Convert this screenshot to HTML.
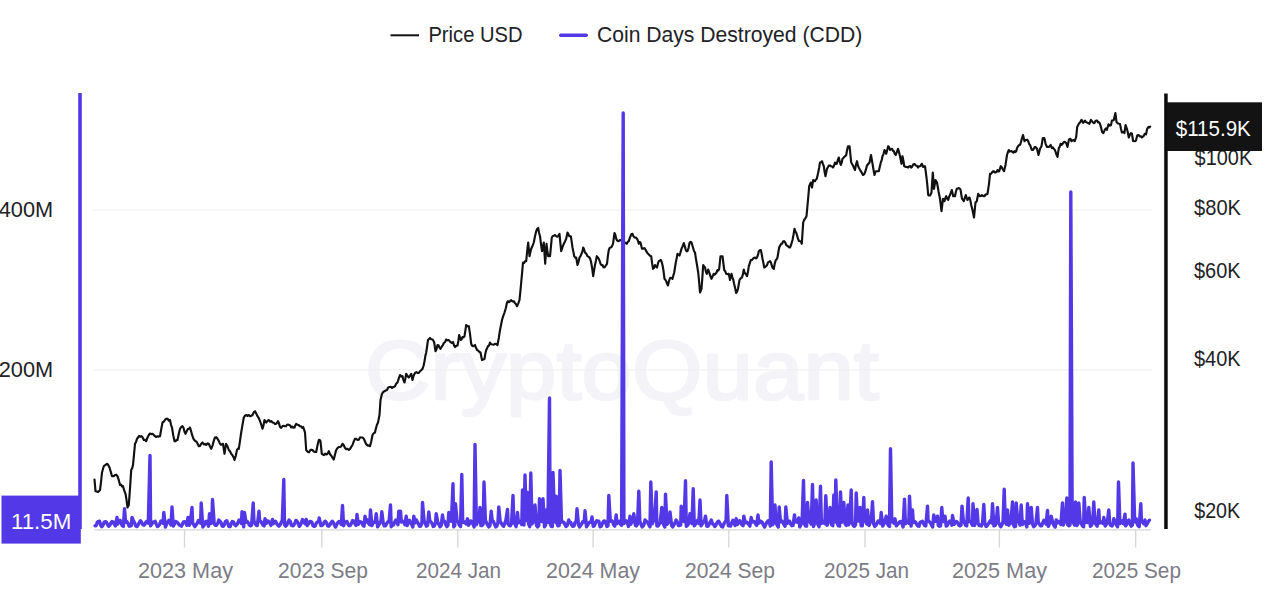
<!DOCTYPE html>
<html><head><meta charset="utf-8"><title>Chart</title>
<style>html,body{margin:0;padding:0;background:#fff;overflow:hidden}svg{display:block}</style>
</head><body>
<svg width="1280" height="602" viewBox="0 0 1280 602" font-family="Liberation Sans, sans-serif">
<rect width="1280" height="602" fill="#ffffff"/>
<text x="365" y="398.5" font-size="83" fill="#f3f3f8" stroke="#f3f3f8" stroke-width="2.4" stroke-linejoin="round" textLength="514" lengthAdjust="spacingAndGlyphs">CryptoQuant</text>
<line x1="92" y1="210" x2="1152" y2="210" stroke="#f1f1f1" stroke-width="1.2"/>
<line x1="94" y1="369.8" x2="1152" y2="369.8" stroke="#f1f1f1" stroke-width="1.2"/>
<line x1="94.5" y1="529.9" x2="1151" y2="529.9" stroke="#d6d6d8" stroke-width="1.4"/>
<line x1="184.5" y1="530" x2="184.5" y2="547.5" stroke="#d6d6d8" stroke-width="1.3"/>
<line x1="321.8" y1="530" x2="321.8" y2="547.5" stroke="#d6d6d8" stroke-width="1.3"/>
<line x1="457.8" y1="530" x2="457.8" y2="547.5" stroke="#d6d6d8" stroke-width="1.3"/>
<line x1="593.1" y1="530" x2="593.1" y2="547.5" stroke="#d6d6d8" stroke-width="1.3"/>
<line x1="728.8" y1="530" x2="728.8" y2="547.5" stroke="#d6d6d8" stroke-width="1.3"/>
<line x1="865" y1="530" x2="865" y2="547.5" stroke="#d6d6d8" stroke-width="1.3"/>
<line x1="999.4" y1="530" x2="999.4" y2="547.5" stroke="#d6d6d8" stroke-width="1.3"/>
<line x1="1135.7" y1="530" x2="1135.7" y2="547.5" stroke="#d6d6d8" stroke-width="1.3"/>
<text x="137.99" y="578.0" font-size="22.2" fill="#7c7c86" textLength="95.01" lengthAdjust="spacingAndGlyphs">2023 May</text>
<text x="278.00" y="578.0" font-size="22.2" fill="#7c7c86" textLength="90.00" lengthAdjust="spacingAndGlyphs">2023 Sep</text>
<text x="416.00" y="578.0" font-size="22.2" fill="#7c7c86" textLength="85.00" lengthAdjust="spacingAndGlyphs">2024 Jan</text>
<text x="546.01" y="578.0" font-size="22.2" fill="#7c7c86" textLength="93.99" lengthAdjust="spacingAndGlyphs">2024 May</text>
<text x="684.99" y="578.0" font-size="22.2" fill="#7c7c86" textLength="90.03" lengthAdjust="spacingAndGlyphs">2024 Sep</text>
<text x="824.00" y="578.0" font-size="22.2" fill="#7c7c86" textLength="85.00" lengthAdjust="spacingAndGlyphs">2025 Jan</text>
<text x="952.01" y="578.0" font-size="22.2" fill="#7c7c86" textLength="94.99" lengthAdjust="spacingAndGlyphs">2025 May</text>
<text x="1092.01" y="578.0" font-size="22.2" fill="#7c7c86" textLength="88.99" lengthAdjust="spacingAndGlyphs">2025 Sep</text>
<line x1="390.5" y1="35.3" x2="419" y2="35.3" stroke="#111" stroke-width="2"/>
<text x="428.40" y="42.3" font-size="22.2" fill="#222226" textLength="94.20" lengthAdjust="spacingAndGlyphs">Price USD</text>
<line x1="560.7" y1="35.3" x2="586.3" y2="35.3" stroke="#5238e6" stroke-width="3.4" stroke-linecap="round"/>
<text x="597.00" y="42.3" font-size="22.2" fill="#222226" textLength="265.20" lengthAdjust="spacingAndGlyphs">Coin Days Destroyed (CDD)</text>
<text x="-1.30" y="216.9" font-size="22.2" fill="#222226" textLength="54.50" lengthAdjust="spacingAndGlyphs">400M</text>
<text x="-1.30" y="376.9" font-size="22.2" fill="#222226" textLength="54.50" lengthAdjust="spacingAndGlyphs">200M</text>
<rect x="78.2" y="93" width="3.6" height="436" fill="#5238e6"/>
<rect x="1.5" y="495.6" width="79.3" height="48" fill="#5238e6"/>
<text x="10.95" y="529.0" font-size="22.2" fill="#ffffff" textLength="60.30" lengthAdjust="spacingAndGlyphs">11.5M</text>
<text x="1194.61" y="165.4" font-size="22.2" fill="#222226" textLength="57.58" lengthAdjust="spacingAndGlyphs">$100K</text>
<text x="1194.00" y="215.0" font-size="22.2" fill="#222226" textLength="47.00" lengthAdjust="spacingAndGlyphs">$80K</text>
<text x="1194.00" y="278.3" font-size="22.2" fill="#222226" textLength="46.60" lengthAdjust="spacingAndGlyphs">$60K</text>
<text x="1194.00" y="365.8" font-size="22.2" fill="#222226" textLength="46.60" lengthAdjust="spacingAndGlyphs">$40K</text>
<text x="1194.18" y="518.1" font-size="22.2" fill="#222226" textLength="46.02" lengthAdjust="spacingAndGlyphs">$20K</text>
<rect x="1164.2" y="93.5" width="3.5" height="435.5" fill="#0c0c0c"/>
<rect x="1167" y="102.3" width="95" height="48.7" fill="#131313"/>
<text x="1175.79" y="135.6" font-size="22.2" fill="#ffffff" textLength="74.99" lengthAdjust="spacingAndGlyphs">$115.9K</text>
<path d="M94.5,479.5 L95.5,491.2 L96.8,491.5 L98.0,492.0 L99.0,491.1 L100.0,490.0 L101.0,482.2 L102.0,472.5 L102.9,469.3 L103.8,466.2 L104.8,465.4 L105.9,464.8 L107.0,463.8 L108.2,464.9 L109.5,467.5 L110.8,471.9 L112.0,476.2 L113.0,476.1 L114.0,476.1 L115.0,475.0 L116.2,474.7 L117.5,476.2 L118.8,480.2 L120.0,485.0 L121.0,484.5 L122.0,486.5 L123.0,486.2 L124.2,490.4 L125.5,493.8 L126.5,499.6 L127.5,507.5 L128.8,505.0 L130.0,488.6 L131.2,470.0 L132.1,468.5 L133.0,465.0 L134.0,454.7 L135.0,443.8 L136.0,441.9 L137.0,438.8 L138.0,437.5 L139.1,436.0 L140.2,436.7 L141.2,436.2 L142.5,437.2 L143.8,440.0 L145.0,439.9 L146.2,441.2 L147.5,437.6 L148.8,435.0 L150.0,433.5 L151.2,434.1 L152.5,433.8 L153.8,434.9 L155.0,436.2 L156.2,437.0 L157.5,436.3 L158.8,436.6 L160.0,436.2 L161.2,429.4 L162.5,422.5 L163.8,421.6 L165.0,419.9 L166.2,418.8 L167.5,418.7 L168.8,420.7 L170.0,420.0 L171.0,424.8 L172.0,427.5 L173.2,435.1 L174.5,441.2 L175.5,441.3 L176.5,440.0 L177.5,440.0 L178.8,433.8 L180.0,428.8 L181.2,427.0 L182.5,426.2 L183.5,427.8 L184.5,431.8 L185.5,433.8 L186.8,431.0 L188.0,428.8 L189.0,428.9 L190.0,427.5 L191.2,431.6 L192.5,436.2 L193.5,438.9 L194.5,440.3 L195.5,441.2 L196.6,441.8 L197.7,443.9 L198.8,446.2 L200.0,445.9 L201.2,443.7 L202.5,442.5 L203.8,444.4 L205.0,443.9 L206.2,445.0 L207.5,443.4 L208.8,443.8 L210.0,446.5 L211.2,448.8 L212.5,445.6 L213.8,440.7 L215.0,437.5 L216.2,437.2 L217.5,438.8 L218.8,440.9 L220.0,443.8 L221.0,444.8 L222.0,444.3 L223.0,443.8 L224.5,453.8 L226.0,443.8 L227.4,446.0 L228.8,450.0 L230.0,451.3 L231.2,453.8 L232.3,455.0 L233.4,456.9 L234.5,460.0 L235.8,455.7 L237.0,450.0 L237.9,448.7 L238.8,448.8 L240.0,440.8 L241.2,432.5 L242.5,424.9 L243.8,417.5 L245.0,415.6 L246.2,415.0 L247.5,415.9 L248.8,415.0 L250.0,416.2 L251.2,415.9 L252.5,415.0 L253.8,412.3 L255.0,411.2 L256.2,413.6 L257.5,416.2 L258.8,418.1 L260.0,421.2 L261.2,424.5 L262.5,428.8 L263.5,425.4 L264.5,420.0 L265.4,421.9 L266.2,422.5 L267.5,420.8 L268.8,420.0 L270.0,421.7 L271.2,421.0 L272.5,422.5 L273.8,422.7 L275.0,424.1 L276.2,423.8 L277.1,422.8 L278.0,421.2 L279.0,423.2 L280.0,427.0 L281.2,427.9 L282.5,426.0 L283.8,425.9 L285.0,426.2 L286.0,426.3 L287.0,424.7 L288.0,424.5 L289.1,425.1 L290.2,425.6 L291.2,427.5 L292.3,426.6 L293.4,427.7 L294.5,427.5 L295.4,425.1 L296.2,423.8 L297.5,424.8 L298.8,425.1 L300.0,426.2 L301.1,426.4 L302.2,427.8 L303.2,427.0 L304.1,429.7 L305.0,432.5 L306.2,450.0 L307.1,451.2 L308.0,452.0 L309.1,452.3 L310.2,450.3 L311.4,449.7 L312.5,450.0 L313.8,451.6 L315.0,452.0 L316.2,452.0 L317.5,445.4 L318.8,440.0 L319.6,439.9 L320.5,441.2 L321.8,453.8 L322.9,454.5 L324.0,455.1 L325.1,453.6 L326.2,454.5 L327.5,453.9 L328.8,451.2 L330.0,454.2 L331.2,455.5 L332.5,457.7 L333.8,459.5 L335.0,454.6 L336.2,450.0 L337.5,448.1 L338.8,447.0 L340.0,447.0 L341.2,446.4 L342.5,443.8 L343.8,445.3 L345.0,448.0 L346.2,449.1 L347.5,448.8 L348.8,450.0 L350.0,449.0 L351.2,446.9 L352.5,445.0 L353.8,441.4 L355.0,438.8 L356.2,438.7 L357.5,440.0 L358.8,439.7 L360.0,437.4 L361.2,437.5 L362.5,437.5 L363.8,438.8 L364.8,441.0 L365.9,443.7 L367.0,445.0 L368.0,445.7 L369.0,445.3 L370.0,446.2 L371.2,441.5 L372.5,435.0 L373.8,433.1 L375.0,432.5 L375.5,430.0 L376.8,425.2 L378.0,422.5 L379.5,415.0 L380.5,400.0 L382.0,393.8 L383.2,392.0 L384.5,391.2 L385.8,390.5 L387.0,390.0 L388.2,387.5 L389.5,387.0 L390.8,386.8 L392.0,388.0 L393.0,387.1 L394.0,387.0 L395.0,386.2 L396.2,383.6 L397.5,382.5 L398.8,378.4 L400.0,375.0 L401.2,376.5 L402.5,376.2 L403.5,380.4 L404.5,382.5 L405.4,378.5 L406.2,373.8 L407.5,376.0 L408.8,377.5 L410.0,375.8 L411.2,373.8 L412.5,380.0 L413.5,376.1 L414.5,373.8 L415.5,372.5 L416.5,372.2 L417.5,373.0 L418.8,373.0 L420.0,371.2 L421.2,370.4 L422.5,368.8 L423.5,366.0 L424.5,361.2 L425.4,355.8 L426.2,352.5 L427.1,346.5 L428.0,340.0 L429.0,339.0 L430.0,338.0 L431.2,339.3 L432.5,339.5 L433.4,340.6 L434.2,342.5 L435.5,351.2 L436.5,349.2 L437.5,345.0 L438.5,345.3 L439.5,347.6 L440.5,348.8 L442.0,346.2 L442.9,345.1 L443.8,343.0 L445.0,342.1 L446.2,339.5 L447.5,340.3 L448.8,340.0 L450.0,341.7 L451.2,342.5 L452.1,342.9 L453.0,342.0 L454.0,345.4 L455.0,347.0 L456.2,345.9 L457.5,345.5 L458.4,340.7 L459.2,335.0 L460.8,340.0 L461.6,339.4 L462.5,337.0 L463.5,337.4 L464.5,336.2 L465.4,330.4 L466.2,325.0 L467.5,326.3 L468.8,326.2 L470.0,333.8 L471.2,343.8 L472.1,345.8 L473.0,346.2 L474.0,345.8 L475.0,345.0 L476.0,347.8 L477.0,350.0 L477.9,350.4 L478.8,351.2 L479.6,352.1 L480.5,352.5 L482.0,360.0 L483.2,359.6 L484.5,358.8 L485.4,353.5 L486.2,350.0 L487.1,348.4 L488.0,346.2 L489.0,345.5 L490.0,342.5 L491.2,344.3 L492.5,344.5 L493.8,344.6 L495.0,343.8 L496.2,344.1 L497.5,345.0 L498.8,338.0 L500.0,330.0 L501.0,325.2 L502.0,320.0 L503.2,316.1 L504.5,312.5 L505.8,308.2 L507.0,302.5 L508.0,301.2 L509.0,302.2 L510.0,301.2 L511.2,300.2 L512.5,301.5 L513.8,301.2 L514.8,302.9 L515.9,304.0 L517.0,306.2 L518.2,303.6 L519.5,300.0 L520.4,291.2 L521.2,282.5 L522.1,272.8 L523.0,262.5 L524.1,263.0 L525.2,261.1 L526.2,261.2 L527.2,250.8 L528.2,242.5 L529.5,256.2 L530.4,252.1 L531.2,248.8 L532.5,246.0 L533.8,242.5 L535.0,236.2 L536.2,231.2 L537.2,228.9 L538.2,228.0 L539.1,233.0 L540.0,236.2 L541.0,244.1 L542.0,251.2 L542.9,246.7 L543.8,242.5 L545.2,263.8 L546.5,243.8 L547.4,250.9 L548.2,256.2 L549.1,255.9 L550.0,256.2 L550.9,247.2 L551.8,237.5 L552.8,236.0 L553.9,235.7 L555.0,235.0 L556.0,236.1 L557.0,236.7 L558.0,236.2 L559.5,233.8 L560.4,243.3 L561.2,251.2 L562.5,247.2 L563.8,243.8 L565.0,241.4 L566.2,238.8 L567.5,232.5 L568.4,234.0 L569.2,236.2 L570.8,236.2 L571.6,241.1 L572.5,247.5 L573.4,251.9 L574.2,256.2 L575.2,257.6 L576.2,257.5 L577.5,265.0 L578.5,262.0 L579.5,257.5 L580.5,256.1 L581.5,253.8 L582.4,251.6 L583.2,247.5 L584.1,249.5 L585.0,252.5 L586.2,253.6 L587.5,256.2 L588.5,256.8 L589.5,257.5 L590.4,259.5 L591.2,262.5 L592.2,268.7 L593.2,276.2 L594.1,270.4 L595.0,265.0 L595.9,260.9 L596.8,256.2 L597.8,257.5 L598.8,258.8 L599.6,260.8 L600.5,263.8 L601.5,265.1 L602.5,265.0 L603.5,267.3 L604.5,267.5 L605.8,265.5 L607.0,263.8 L607.9,255.9 L608.8,250.0 L609.8,247.7 L610.8,247.5 L611.9,246.4 L613.0,243.8 L614.5,233.0 L615.4,234.9 L616.2,238.8 L617.1,240.5 L618.0,241.2 L619.0,240.8 L620.0,240.0 L621.0,240.2 L622.0,241.2 L623.1,243.1 L624.2,243.8 L625.5,242.7 L626.8,243.8 L627.8,241.7 L628.8,241.2 L629.6,238.7 L630.5,236.2 L631.5,234.0 L632.5,233.8 L633.5,236.4 L634.5,237.5 L635.8,237.5 L637.0,238.8 L637.9,240.5 L638.8,243.8 L639.6,242.1 L640.5,242.5 L642.0,248.8 L643.2,248.7 L644.5,248.0 L645.4,249.5 L646.2,251.2 L647.5,253.2 L648.8,254.5 L650.0,255.7 L651.2,256.2 L652.1,263.2 L653.0,268.8 L654.0,267.9 L655.0,265.0 L656.0,266.7 L657.0,267.5 L657.9,263.7 L658.8,261.2 L659.8,260.6 L660.8,260.0 L661.6,261.8 L662.5,265.0 L663.5,270.8 L664.5,278.8 L665.4,279.9 L666.2,281.2 L667.1,283.8 L668.0,285.5 L669.0,281.0 L670.0,278.0 L671.2,277.9 L672.5,278.8 L673.4,275.3 L674.2,272.5 L675.8,262.5 L676.6,258.6 L677.5,253.8 L678.5,254.7 L679.5,255.5 L680.5,252.4 L681.5,248.8 L682.6,246.4 L683.8,243.0 L684.8,246.3 L685.8,250.0 L686.6,251.3 L687.5,251.2 L688.5,248.0 L689.5,243.0 L690.5,241.8 L691.5,242.5 L693.0,247.5 L694.0,251.0 L695.0,252.5 L695.9,258.6 L696.8,263.8 L698.2,272.5 L699.1,281.7 L700.0,292.5 L701.5,288.8 L702.4,276.8 L703.2,265.0 L704.1,266.5 L705.0,267.5 L705.9,271.5 L706.8,273.8 L708.2,269.5 L709.1,272.0 L710.0,275.0 L711.5,278.8 L712.6,276.4 L713.8,273.8 L714.6,274.6 L715.5,273.8 L716.5,272.5 L717.5,270.0 L718.4,270.4 L719.2,268.8 L720.5,256.2 L721.5,256.2 L722.5,256.2 L723.4,263.5 L724.2,270.0 L725.2,271.2 L726.2,273.8 L727.5,274.2 L728.8,273.8 L730.0,280.0 L731.5,273.8 L732.4,277.3 L733.2,279.5 L734.1,283.8 L735.0,287.5 L736.2,293.0 L737.1,291.4 L738.0,288.8 L739.5,280.0 L740.8,278.1 L742.0,277.5 L742.9,274.4 L743.8,269.5 L744.6,272.7 L745.5,273.8 L747.0,276.2 L747.9,272.3 L748.8,266.2 L749.8,263.2 L750.8,260.0 L751.9,260.0 L753.0,258.8 L754.0,257.7 L755.0,257.5 L756.0,258.4 L757.0,257.5 L757.9,255.2 L758.8,251.2 L759.8,250.3 L760.8,250.0 L761.6,253.5 L762.5,258.8 L763.4,263.0 L764.2,267.5 L765.2,267.0 L766.2,266.2 L767.1,265.0 L768.0,262.5 L769.0,261.8 L770.0,261.2 L771.0,262.7 L772.0,266.2 L772.9,268.2 L773.8,268.8 L774.8,263.4 L775.8,260.0 L776.6,259.4 L777.5,257.5 L778.4,251.8 L779.2,247.5 L780.2,245.3 L781.2,243.8 L782.2,243.6 L783.2,241.3 L784.2,241.2 L785.2,242.4 L786.2,245.0 L787.1,245.7 L788.0,246.2 L789.0,247.4 L790.0,247.5 L791.2,244.5 L792.5,240.0 L793.5,234.8 L794.5,228.8 L795.4,231.6 L796.2,232.5 L797.1,235.6 L798.0,238.8 L799.0,241.0 L800.0,241.2 L800.9,241.6 L801.8,243.8 L803.2,222.5 L804.1,220.0 L805.0,218.8 L806.5,216.2 L808.0,200.0 L809.2,186.2 L810.8,182.5 L812.0,187.5 L813.2,180.0 L814.1,180.7 L815.0,181.2 L815.9,179.5 L816.8,178.8 L818.2,172.5 L819.1,168.0 L820.0,162.5 L821.0,162.2 L822.0,161.2 L822.9,163.8 L823.8,166.2 L824.6,172.0 L825.5,176.2 L827.0,168.8 L827.9,167.3 L828.8,165.5 L830.0,165.5 L831.2,166.2 L832.1,166.6 L833.0,167.5 L834.0,165.8 L835.0,162.5 L835.9,164.0 L836.8,163.8 L837.8,160.0 L838.8,157.5 L839.8,162.0 L840.8,165.0 L841.6,162.9 L842.5,158.8 L843.4,157.9 L844.2,157.0 L845.2,156.2 L846.2,155.0 L847.1,150.0 L848.0,146.2 L849.5,146.2 L850.4,154.5 L851.2,162.5 L852.1,164.0 L853.0,165.5 L854.0,168.0 L855.0,170.0 L856.0,164.6 L857.0,161.2 L857.9,165.4 L858.8,167.5 L859.8,169.4 L860.8,171.2 L861.9,172.9 L863.0,175.0 L864.0,174.4 L865.0,172.5 L866.0,169.1 L867.0,165.5 L868.2,164.0 L869.5,162.5 L871.0,155.0 L872.5,163.8 L873.5,169.8 L874.5,175.0 L875.4,172.2 L876.2,171.2 L877.5,171.3 L878.8,171.2 L879.8,166.7 L880.8,162.5 L881.6,160.4 L882.5,156.2 L883.5,154.1 L884.5,150.0 L885.4,151.4 L886.2,153.8 L887.2,149.9 L888.2,146.2 L889.1,147.3 L890.0,150.0 L891.0,149.2 L892.0,148.8 L892.9,150.7 L893.8,151.2 L894.8,154.0 L895.8,155.0 L896.9,151.8 L898.0,148.8 L899.0,152.1 L900.0,156.2 L901.5,163.8 L902.5,156.2 L903.4,160.6 L904.2,166.2 L905.6,166.9 L907.0,167.0 L908.2,167.6 L909.5,166.2 L910.4,166.1 L911.2,167.5 L912.2,166.6 L913.2,164.5 L914.5,164.0 L915.8,165.5 L916.9,165.8 L918.0,167.5 L919.0,166.3 L920.0,166.2 L920.9,165.4 L921.8,163.8 L923.2,167.0 L924.1,166.2 L925.0,166.2 L926.5,177.5 L927.4,185.9 L928.2,195.0 L929.1,195.5 L930.0,195.5 L931.5,192.5 L932.8,172.5 L934.0,188.8 L935.5,180.0 L937.0,182.5 L938.5,191.2 L940.0,198.8 L941.5,211.2 L943.0,198.8 L944.5,201.2 L945.4,197.9 L946.2,196.2 L947.2,198.6 L948.2,200.0 L949.1,196.7 L950.0,195.0 L950.9,192.5 L951.8,190.0 L953.2,196.2 L954.1,195.7 L955.0,196.2 L955.9,191.8 L956.8,188.8 L957.8,188.4 L958.8,188.0 L959.6,188.6 L960.5,189.5 L962.0,198.8 L962.9,199.7 L963.8,201.2 L964.8,197.9 L965.8,195.0 L966.6,197.6 L967.5,200.0 L968.5,198.0 L969.5,197.5 L970.4,200.6 L971.2,205.0 L972.5,210.0 L974.0,217.5 L975.5,202.5 L976.8,201.2 L978.2,193.8 L979.1,195.3 L980.0,196.2 L981.0,195.9 L982.0,195.0 L982.9,195.7 L983.8,196.2 L984.6,196.1 L985.5,194.5 L986.5,194.4 L987.5,193.8 L989.0,183.8 L990.0,173.8 L991.0,173.9 L992.0,172.5 L992.9,171.3 L993.8,171.2 L994.6,172.4 L995.5,172.5 L996.5,171.9 L997.5,170.0 L998.4,171.5 L999.2,171.2 L1000.8,166.2 L1001.6,167.1 L1002.5,168.8 L1004.0,171.2 L1005.5,165.0 L1007.0,155.0 L1007.9,152.1 L1008.8,150.0 L1009.6,151.6 L1010.5,151.2 L1011.5,151.0 L1012.5,152.0 L1013.5,152.7 L1014.5,151.2 L1015.4,152.1 L1016.2,151.2 L1017.1,147.9 L1018.0,146.2 L1019.0,145.1 L1020.0,145.0 L1020.9,142.4 L1021.8,138.8 L1023.0,135.0 L1024.5,141.2 L1025.4,140.1 L1026.2,140.0 L1027.2,139.7 L1028.2,141.2 L1029.1,143.9 L1030.0,145.0 L1030.9,147.3 L1031.8,150.0 L1032.8,150.0 L1033.8,148.8 L1034.6,147.1 L1035.5,147.0 L1037.0,148.8 L1038.5,155.0 L1040.0,148.8 L1041.5,146.2 L1042.8,138.1 L1044.4,138.1 L1045.6,143.8 L1046.9,146.9 L1047.8,146.7 L1048.8,146.9 L1049.7,146.3 L1050.6,145.0 L1051.9,148.1 L1052.8,147.4 L1053.8,148.8 L1054.7,149.7 L1055.6,151.9 L1056.6,154.8 L1057.5,156.9 L1058.8,148.1 L1059.7,146.8 L1060.6,143.8 L1061.6,144.9 L1062.5,144.0 L1063.8,142.1 L1065.0,141.9 L1066.2,143.1 L1067.5,146.9 L1069.0,139.4 L1070.4,138.8 L1071.5,141.2 L1073.1,140.0 L1074.8,141.0 L1076.2,136.9 L1077.2,126.9 L1078.8,123.8 L1080.0,122.5 L1081.5,119.8 L1083.1,122.8 L1084.1,121.7 L1085.0,120.6 L1085.9,122.1 L1086.9,122.5 L1088.1,123.1 L1089.4,123.8 L1090.9,119.8 L1092.5,121.9 L1093.4,122.9 L1094.4,123.1 L1095.3,121.2 L1096.2,120.6 L1097.2,120.6 L1098.1,122.5 L1099.1,122.3 L1100.0,123.8 L1101.2,128.1 L1102.1,131.9 L1103.4,133.1 L1105.0,129.4 L1105.9,128.5 L1106.9,129.8 L1108.5,124.4 L1110.0,125.6 L1111.0,125.0 L1111.9,120.6 L1112.8,120.4 L1113.8,120.0 L1115.4,113.1 L1116.5,121.9 L1118.1,123.5 L1119.1,123.8 L1120.0,124.0 L1120.9,128.4 L1121.9,132.5 L1123.5,131.9 L1124.4,133.1 L1125.6,125.0 L1126.9,128.8 L1127.8,132.3 L1128.8,137.5 L1130.0,134.4 L1130.9,133.2 L1131.9,133.5 L1133.1,141.0 L1134.8,141.2 L1136.0,140.6 L1137.2,135.6 L1138.5,135.0 L1140.0,136.5 L1140.9,136.3 L1141.9,137.5 L1143.5,136.2 L1144.8,133.8 L1146.0,134.4 L1147.2,128.8 L1148.5,126.9 L1149.4,127.5 L1150.2,126.6" fill="none" stroke="#111111" stroke-width="2.15" stroke-linejoin="round" stroke-linecap="round"/>
<path d="M95.0,525.7 L96.1,525.7 L97.3,522.3 L98.4,521.4 L99.5,521.2 L100.7,525.2 L101.8,526.6 L102.9,525.3 L104.1,522.3 L105.2,521.6 L106.3,522.1 L107.5,524.5 L108.6,526.2 L109.8,525.3 L110.9,523.0 L112.0,521.5 L113.2,522.0 L114.3,524.1 L115.4,525.9 L117.0,517.5 L117.7,524.1 L118.8,521.5 L120.0,520.2 L121.1,523.0 L122.2,525.6 L123.4,526.4 L124.5,508.8 L125.6,522.4 L126.8,521.5 L127.9,523.2 L129.1,526.2 L130.2,526.0 L131.3,525.7 L132.0,517.5 L133.6,521.1 L134.7,523.2 L135.9,526.2 L137.0,526.5 L138.1,524.9 L139.3,522.5 L140.4,520.8 L141.5,522.0 L142.7,524.4 L143.8,525.3 L144.9,524.1 L146.1,521.9 L147.2,521.1 L148.3,523.1 L150.0,455.5 L150.6,525.9 L151.8,524.1 L152.9,522.1 L154.0,521.8 L155.2,521.3 L156.3,524.1 L157.4,526.5 L158.6,525.8 L159.7,524.2 L160.8,521.2 L162.0,520.9 L163.1,523.2 L163.8,512.5 L165.4,527.0 L166.5,524.4 L167.6,522.3 L168.8,520.4 L169.9,521.4 L171.0,524.9 L172.0,507.0 L173.3,526.1 L174.4,524.2 L175.6,521.6 L176.7,521.9 L177.9,523.0 L179.0,524.7 L180.1,525.4 L181.3,526.2 L182.4,524.3 L183.5,521.9 L184.7,521.6 L185.8,523.0 L186.9,525.2 L188.0,517.5 L189.2,525.4 L190.3,523.0 L192.0,507.5 L192.6,522.6 L193.7,524.8 L194.9,526.6 L196.0,525.0 L197.2,523.2 L198.3,520.6 L199.4,521.2 L200.6,523.2 L201.2,503.0 L202.8,527.0 L204.0,525.6 L205.1,522.3 L206.2,521.2 L207.4,523.0 L208.5,526.2 L209.5,513.8 L210.8,523.6 L211.9,520.9 L212.5,499.5 L214.2,523.8 L215.3,525.4 L216.4,525.3 L217.6,523.8 L218.8,520.0 L219.8,521.1 L221.0,522.5 L222.1,526.0 L223.3,526.2 L224.4,524.6 L225.5,521.4 L226.7,520.7 L227.8,523.5 L228.9,526.5 L230.1,526.6 L231.2,523.7 L232.3,521.5 L233.5,522.0 L234.6,524.5 L235.7,525.7 L236.9,524.6 L238.0,522.6 L239.1,520.0 L240.3,521.6 L241.4,523.5 L242.0,511.8 L243.7,526.9 L244.5,512.5 L246.0,522.4 L247.1,521.3 L248.2,522.7 L249.4,525.1 L250.5,525.8 L251.6,525.1 L253.2,503.0 L253.9,520.8 L255.0,522.9 L256.2,525.3 L257.3,525.5 L259.0,511.2 L259.6,521.1 L260.7,521.2 L261.8,523.0 L263.0,525.1 L264.1,525.9 L265.0,518.8 L266.4,523.4 L267.5,520.9 L268.7,521.4 L269.8,522.9 L270.9,525.4 L272.5,519.5 L273.2,523.8 L274.3,522.3 L275.5,521.2 L276.6,523.4 L277.7,525.0 L278.9,526.1 L280.0,525.0 L281.1,522.6 L282.3,520.4 L283.8,479.5 L284.5,524.7 L285.7,526.2 L286.8,525.0 L287.9,522.4 L289.1,520.1 L290.2,521.3 L291.4,525.3 L292.5,525.8 L293.6,525.5 L294.8,523.3 L295.9,520.4 L297.0,521.2 L298.2,523.4 L299.3,526.3 L300.4,525.1 L301.6,522.3 L302.5,519.5 L303.8,521.3 L305.0,523.7 L306.2,519.5 L307.2,525.6 L308.4,523.8 L309.5,521.9 L310.6,521.4 L311.8,522.2 L312.9,525.4 L314.1,526.4 L315.2,525.9 L316.3,523.1 L317.5,522.0 L318.6,521.7 L319.2,518.0 L320.9,525.6 L322.0,525.5 L323.1,524.4 L324.3,521.9 L325.4,521.2 L326.5,522.7 L327.7,525.9 L328.8,526.2 L329.9,524.9 L331.1,522.6 L332.2,521.2 L333.4,522.6 L334.5,525.3 L335.6,527.0 L336.8,524.6 L337.9,522.5 L339.0,521.5 L340.2,522.4 L341.3,524.6 L342.5,505.5 L343.6,525.7 L344.7,522.3 L345.8,521.8 L347.0,521.5 L348.1,524.4 L349.2,525.7 L350.4,525.3 L351.5,523.3 L352.6,520.6 L353.8,521.1 L354.9,523.8 L356.1,525.4 L357.0,514.5 L358.3,524.2 L359.5,521.5 L360.6,521.9 L361.7,522.7 L362.9,525.3 L364.0,526.2 L365.0,516.2 L366.3,522.0 L367.4,519.9 L368.5,523.2 L369.7,524.8 L370.5,510.0 L371.9,525.5 L373.1,522.7 L374.2,521.9 L375.3,522.3 L376.2,513.8 L377.6,526.9 L378.8,524.9 L379.9,522.7 L381.0,520.9 L381.8,511.8 L383.3,523.8 L384.4,525.9 L385.6,525.7 L386.7,523.5 L387.8,521.8 L389.0,521.9 L390.5,505.0 L391.2,526.7 L392.4,525.4 L393.5,525.0 L394.6,522.0 L395.8,520.0 L396.9,522.5 L398.0,524.7 L398.8,511.2 L400.5,511.2 L401.4,522.1 L402.6,521.6 L403.7,521.4 L404.9,524.8 L406.2,516.2 L407.1,525.6 L408.3,522.9 L409.4,520.2 L410.5,522.2 L411.7,524.5 L412.8,527.0 L413.8,516.2 L415.1,522.8 L416.2,519.8 L417.3,521.9 L418.5,523.9 L419.6,526.3 L420.7,526.1 L421.9,523.4 L422.5,502.5 L424.1,520.7 L425.3,523.1 L426.4,526.2 L427.6,525.3 L428.8,512.0 L429.8,521.0 L431.0,521.9 L432.1,523.5 L433.2,526.5 L434.4,525.9 L435.5,522.9 L436.2,513.8 L437.8,522.2 L438.9,524.6 L440.0,526.8 L441.2,525.6 L442.5,515.0 L443.4,521.9 L444.6,521.2 L445.7,524.5 L446.9,526.6 L448.0,525.2 L448.8,512.5 L450.3,520.5 L451.4,521.2 L453.0,483.8 L453.7,526.8 L454.8,525.5 L455.5,503.8 L457.1,521.2 L458.2,521.9 L459.3,524.9 L460.5,526.6 L461.8,474.5 L462.7,522.5 L463.9,521.9 L465.0,522.4 L466.1,523.9 L467.5,518.8 L468.4,525.3 L469.6,523.7 L470.7,520.9 L471.8,522.2 L473.0,524.0 L474.1,527.0 L475.0,444.5 L476.4,524.8 L477.5,521.4 L478.6,521.8 L480.0,507.5 L480.9,525.6 L482.0,525.6 L483.2,523.9 L484.0,482.0 L485.4,520.1 L486.6,522.9 L487.7,525.2 L488.8,526.9 L490.0,525.4 L491.2,511.2 L492.2,520.7 L493.4,521.5 L494.5,524.1 L495.7,526.9 L496.8,526.1 L497.9,522.9 L498.8,507.0 L500.2,521.6 L501.3,523.1 L502.5,525.3 L503.6,526.3 L504.7,523.5 L505.9,520.2 L507.5,509.5 L508.1,524.0 L509.3,525.6 L510.4,525.8 L511.5,523.6 L513.0,495.5 L513.8,521.4 L515.0,524.1 L516.1,526.7 L517.5,512.5 L518.4,522.9 L519.5,521.1 L520.6,521.1 L521.8,524.6 L522.5,490.0 L524.0,525.0 L525.0,475.0 L526.3,520.6 L527.5,492.5 L528.6,524.1 L529.7,526.7 L530.8,473.0 L532.0,524.0 L533.1,522.1 L534.2,521.9 L535.0,505.0 L536.5,525.5 L537.6,527.0 L538.8,525.4 L539.5,498.8 L541.1,521.3 L542.2,521.5 L543.0,498.8 L544.5,526.8 L545.6,525.2 L546.2,510.0 L547.9,522.2 L549.5,398.0 L550.1,523.3 L551.3,526.3 L552.4,526.5 L553.0,472.5 L554.7,521.7 L556.2,496.2 L556.9,523.4 L558.1,525.9 L559.2,525.6 L560.0,470.5 L561.5,522.1 L562.6,521.9 L563.8,522.4 L564.9,524.4 L566.0,526.6 L567.2,525.3 L568.8,520.0 L569.4,521.7 L570.6,522.2 L571.7,524.9 L572.8,526.4 L574.0,526.0 L575.1,522.2 L576.2,521.7 L577.0,508.8 L578.5,524.9 L579.6,526.9 L580.8,525.1 L581.9,523.5 L583.0,521.4 L584.2,522.0 L585.0,510.8 L586.5,526.7 L587.6,525.2 L588.7,523.0 L589.9,522.0 L591.0,522.3 L592.0,517.0 L593.3,526.4 L594.4,525.7 L595.5,522.8 L596.7,520.8 L597.8,521.4 L598.8,521.2 L600.1,526.8 L601.2,526.3 L602.3,523.6 L603.5,521.3 L604.6,520.9 L605.8,523.1 L606.9,526.5 L608.0,525.8 L608.8,495.5 L610.3,521.2 L611.4,520.4 L612.6,521.6 L613.7,524.9 L614.8,526.1 L616.2,515.0 L617.1,523.6 L618.2,521.7 L619.4,521.2 L620.5,524.1 L621.6,525.3 L623.2,113.0 L623.9,523.6 L625.0,521.9 L626.2,520.9 L627.3,522.7 L628.5,526.4 L630.0,516.2 L630.7,524.3 L631.9,521.7 L633.0,521.4 L633.8,513.8 L635.3,525.1 L636.4,526.0 L637.5,523.9 L638.8,491.2 L639.8,521.2 L640.9,523.8 L642.1,527.0 L643.2,525.9 L644.3,523.6 L645.0,520.0 L646.6,521.5 L647.7,522.6 L648.9,525.0 L650.0,526.8 L650.8,482.0 L652.3,523.8 L653.4,521.0 L654.6,520.8 L656.2,492.0 L656.8,525.8 L658.0,526.1 L659.1,524.4 L660.2,521.8 L661.8,507.5 L662.5,522.6 L663.6,524.4 L664.8,526.9 L665.5,494.2 L667.0,524.3 L668.2,522.3 L669.3,521.1 L670.0,512.0 L671.6,525.5 L672.7,526.9 L673.9,524.8 L675.0,522.8 L676.2,520.0 L677.3,521.9 L678.4,525.5 L679.5,525.5 L680.7,524.9 L681.2,506.2 L682.9,520.9 L684.1,521.6 L685.5,480.8 L686.3,526.3 L687.5,525.4 L688.6,523.6 L690.0,513.8 L690.9,521.4 L692.0,523.6 L693.2,488.8 L694.3,525.9 L695.4,524.3 L696.5,521.5 L697.7,520.3 L698.8,523.4 L700.0,500.0 L701.1,525.9 L702.2,524.2 L703.4,522.2 L704.5,520.9 L705.5,516.2 L706.8,526.2 L707.9,526.4 L709.0,524.6 L710.2,522.1 L711.3,520.1 L712.5,523.8 L713.6,524.5 L714.7,526.5 L715.8,525.3 L717.0,522.8 L718.1,521.4 L718.8,521.2 L720.4,524.4 L721.5,526.5 L722.7,527.0 L723.8,524.0 L724.9,522.2 L726.1,520.5 L726.8,495.5 L728.3,525.7 L729.5,525.9 L730.6,526.0 L731.7,522.7 L732.9,520.3 L734.0,522.2 L735.1,525.6 L736.2,518.8 L737.4,524.6 L738.5,522.4 L739.7,520.6 L740.8,522.8 L742.0,524.9 L743.1,525.6 L743.8,516.2 L745.4,522.8 L746.5,522.1 L747.6,522.7 L748.8,524.5 L749.9,526.1 L751.2,517.5 L752.2,522.1 L753.3,521.5 L754.4,521.6 L755.6,524.0 L756.7,525.4 L758.0,515.0 L759.0,523.0 L760.1,521.2 L761.2,521.5 L762.4,522.7 L763.5,525.2 L764.6,527.0 L765.8,524.4 L766.9,522.3 L768.1,520.7 L769.2,521.7 L770.3,526.1 L771.2,462.0 L772.6,524.7 L773.7,522.7 L775.0,505.0 L776.0,522.9 L777.1,525.1 L778.3,527.0 L779.2,507.0 L780.5,521.9 L781.7,520.9 L782.8,522.1 L783.9,524.4 L785.1,526.2 L785.8,507.0 L787.4,523.3 L788.5,521.6 L789.6,521.2 L790.8,524.3 L791.9,525.7 L793.0,525.4 L794.5,515.0 L795.3,521.9 L796.4,521.9 L797.6,522.3 L798.8,518.0 L799.8,526.9 L801.0,524.4 L802.1,521.0 L803.5,480.5 L804.4,523.7 L805.5,526.0 L806.6,526.2 L807.5,502.5 L808.9,520.7 L810.0,522.2 L811.2,524.1 L812.5,484.5 L813.5,526.5 L814.6,523.4 L816.2,500.0 L816.9,521.9 L818.0,524.5 L819.1,526.7 L820.5,486.2 L821.4,523.5 L822.5,521.2 L823.7,522.5 L824.8,523.7 L825.8,495.8 L827.1,525.4 L828.2,522.2 L829.3,520.3 L830.0,507.5 L831.6,524.9 L832.8,525.7 L833.8,495.0 L835.0,521.9 L835.8,480.0 L837.3,523.5 L838.4,525.9 L839.6,526.0 L840.5,492.0 L841.8,522.3 L843.0,521.8 L843.8,502.5 L845.2,523.9 L846.4,525.4 L848.0,505.0 L848.6,524.8 L849.8,521.8 L851.2,490.0 L852.0,522.2 L853.2,525.5 L854.3,526.4 L855.5,525.0 L856.2,493.0 L857.7,521.0 L858.9,521.0 L860.0,507.5 L861.1,525.7 L862.3,525.9 L863.8,497.5 L864.5,520.6 L865.7,521.6 L866.8,524.1 L867.5,510.0 L869.1,525.5 L870.2,522.3 L871.3,520.0 L872.5,501.8 L873.6,523.9 L874.7,526.4 L875.9,525.5 L877.0,523.1 L878.1,520.9 L879.3,520.9 L880.4,523.6 L881.2,512.5 L882.7,526.1 L883.8,524.2 L885.0,521.0 L886.2,516.2 L887.2,523.0 L888.4,525.6 L889.5,526.4 L890.5,448.8 L891.8,521.7 L892.9,521.7 L894.0,523.3 L895.0,518.8 L896.3,525.9 L897.4,524.6 L898.6,523.4 L899.7,521.6 L900.9,521.5 L902.0,523.8 L903.1,526.9 L904.5,499.2 L905.4,523.9 L906.5,521.1 L907.7,521.2 L908.8,523.3 L909.5,496.2 L911.1,526.1 L912.5,510.0 L913.3,522.5 L914.5,521.3 L915.6,522.1 L916.7,524.5 L917.9,526.0 L919.0,526.2 L920.0,522.5 L921.3,521.7 L922.4,521.2 L923.5,523.5 L924.7,525.6 L925.8,525.9 L927.5,506.2 L928.1,521.1 L929.2,521.4 L930.4,523.0 L931.5,524.9 L932.6,527.0 L933.8,515.0 L934.9,520.9 L936.0,521.3 L937.5,516.2 L938.3,525.6 L939.4,526.2 L940.6,525.9 L941.8,507.5 L942.8,521.6 L944.0,521.6 L945.0,516.2 L946.2,526.1 L947.4,525.2 L948.5,522.5 L949.7,521.1 L950.8,522.0 L951.9,525.2 L952.5,515.5 L954.2,524.4 L955.3,521.8 L956.5,521.5 L957.6,522.7 L958.7,525.1 L959.9,526.0 L961.0,525.1 L962.0,506.2 L963.3,520.1 L964.4,522.5 L965.5,525.1 L966.7,526.0 L968.2,498.0 L969.0,521.6 L970.1,521.2 L971.2,522.7 L972.4,525.2 L973.0,503.8 L974.6,525.5 L975.8,521.8 L977.0,509.5 L978.0,522.5 L979.2,525.6 L980.3,525.6 L981.4,525.9 L982.6,522.4 L983.8,504.5 L984.8,523.3 L986.0,526.4 L987.1,525.9 L988.2,524.2 L989.4,522.0 L990.5,520.5 L991.6,522.9 L992.5,503.8 L993.9,525.9 L995.1,525.5 L996.2,522.9 L997.5,507.5 L998.5,521.9 L999.6,524.7 L1000.7,526.8 L1001.9,524.9 L1003.0,522.2 L1004.2,489.2 L1005.3,521.7 L1006.4,524.2 L1007.5,510.0 L1008.7,525.2 L1009.8,523.7 L1010.9,521.8 L1012.5,502.0 L1013.2,524.2 L1014.4,526.7 L1015.5,526.4 L1016.2,503.0 L1017.8,521.5 L1018.9,522.1 L1020.0,525.1 L1021.2,505.0 L1022.3,524.6 L1023.4,521.4 L1024.6,521.8 L1025.7,523.4 L1026.8,526.9 L1027.5,503.8 L1029.1,523.3 L1030.2,520.9 L1031.2,507.5 L1032.5,523.8 L1033.6,526.7 L1034.8,525.9 L1035.9,523.7 L1037.5,507.5 L1038.2,521.6 L1039.3,524.1 L1040.5,525.8 L1041.6,525.9 L1042.7,523.1 L1043.9,520.2 L1045.0,521.6 L1046.1,524.2 L1047.5,510.5 L1048.4,526.4 L1049.5,523.7 L1050.7,521.4 L1051.2,516.2 L1052.9,523.2 L1054.1,525.8 L1055.2,527.0 L1056.2,520.0 L1057.5,522.9 L1058.6,521.4 L1059.8,521.8 L1060.9,524.6 L1062.5,503.0 L1063.2,525.0 L1064.3,522.5 L1065.4,520.8 L1066.8,498.0 L1067.7,524.8 L1068.8,525.8 L1070.0,525.0 L1070.8,192.0 L1072.2,520.5 L1073.4,522.7 L1074.5,524.9 L1075.5,502.0 L1076.8,525.6 L1077.9,523.8 L1078.8,503.0 L1080.2,521.6 L1081.3,523.5 L1082.5,525.9 L1083.6,526.8 L1084.2,497.5 L1085.9,522.6 L1087.0,520.7 L1088.1,522.5 L1088.8,507.5 L1090.4,526.3 L1091.5,525.2 L1092.7,522.7 L1093.8,502.0 L1094.9,521.8 L1096.1,524.7 L1097.2,526.2 L1098.8,510.0 L1099.5,523.1 L1100.6,521.8 L1101.7,521.9 L1102.9,523.5 L1103.8,517.5 L1105.2,526.0 L1106.3,524.4 L1107.4,521.4 L1108.8,510.0 L1109.7,523.4 L1110.8,525.5 L1112.0,526.0 L1113.1,523.5 L1113.8,518.8 L1115.4,522.4 L1116.5,525.1 L1117.6,526.8 L1118.5,482.0 L1119.9,523.6 L1121.0,521.8 L1122.2,520.7 L1123.3,523.7 L1125.0,514.2 L1125.6,525.8 L1126.7,524.5 L1127.8,521.6 L1128.8,520.0 L1130.1,523.9 L1131.3,526.1 L1132.4,525.1 L1133.0,463.0 L1134.7,521.9 L1136.2,518.8 L1136.9,523.0 L1138.1,525.7 L1139.2,526.6 L1140.8,503.8 L1141.5,521.8 L1142.6,521.3 L1143.7,523.8 L1145.0,520.0 L1146.0,525.7 L1147.1,523.9 L1148.3,521.7 L1149.4,520.2" fill="none" stroke="#5238e6" stroke-width="3.4" stroke-linejoin="round" stroke-linecap="round"/>
</svg>
</body></html>
